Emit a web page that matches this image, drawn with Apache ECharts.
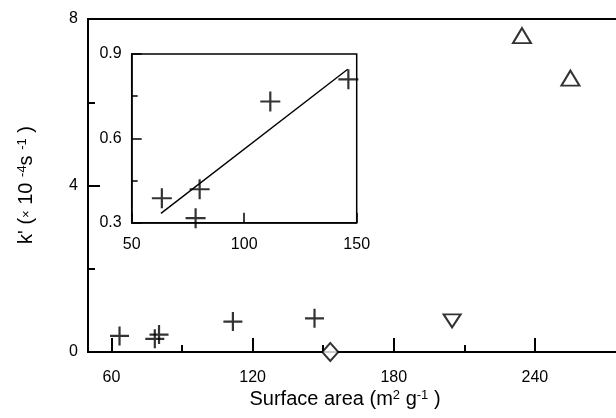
<!DOCTYPE html>
<html>
<head>
<meta charset="utf-8">
<script src="https://cdn.jsdelivr.net/npm/echarts@6/dist/echarts.min.js"></script>
<style>html,body{margin:0;padding:0;background:#fff}#c{width:616px;height:418px}</style>
</head>
<body>
<div id="c"></div>
<script>
// Data (surface area in m^2/g, k' in 1e-4 s^-1)
const plusX = [63.4, 78.4, 80.2, 111.6, 146.3];
const plusY = [0.387, 0.316, 0.419, 0.731, 0.810];
const diamondX = [153];
const diamondY = [0];
const downTriX = [204.8];
const downTriY = [0.75];
const upTriX = [234.5, 255.1];
const upTriY = [7.6, 6.58];
const fitX = [63, 146];
const fitY = [0.333, 0.846];
const mainXMajor = [60, 120, 180, 240];
const mainXMinor = [90, 150, 210];

const zip = (a, b) => a.map((v, i) => [v, b[i]]);
const FONT = 'Liberation Sans';
const plusPath = 'path://M0,10L20,10M10,0L10,20';
const black = '#000';

const chart = echarts.init(document.getElementById('c'), null, {renderer: 'canvas'});
chart.setOption({
  animation: false,
  backgroundColor: '#fff',
  textStyle: {fontFamily: FONT},
  grid: [
    {left: 88, top: 19, width: 541, height: 333, outerBoundsMode: 'none', containLabel: false,
     show: true, borderColor: black, borderWidth: 2, backgroundColor: 'transparent'},
    {left: 131.7, top: 54, width: 225, height: 168.7, outerBoundsMode: 'none', containLabel: false,
     show: true, borderColor: black, borderWidth: 1.5, backgroundColor: '#fff', z: 3}
  ],
  xAxis: [
    {gridIndex: 0, type: 'value', min: 50, max: 280, position: 'bottom',
     axisLine: {show: true, onZero: false, lineStyle: {color: black, width: 2}},
     axisTick: {show: true, inside: true, length: 14, customValues: mainXMajor, lineStyle: {color: black, width: 2}},
     axisLabel: {customValues: mainXMajor, margin: 18, fontSize: 16, color: black, fontFamily: FONT},
     splitLine: {show: false}},
    {gridIndex: 0, type: 'value', min: 50, max: 280, position: 'bottom',
     axisLine: {show: false},
     axisTick: {show: true, inside: true, length: 7, customValues: mainXMinor, lineStyle: {color: black, width: 2}},
     axisLabel: {show: false}, splitLine: {show: false}},
    {gridIndex: 1, type: 'value', min: 50, max: 150, interval: 50, position: 'bottom', z: 4,
     axisLine: {show: true, onZero: false, lineStyle: {color: black, width: 1.5}},
     axisTick: {show: true, inside: true, length: 10, lineStyle: {color: black, width: 1.5}},
     axisLabel: {margin: 14, fontSize: 16, color: black, fontFamily: FONT},
     splitLine: {show: false}}
  ],
  yAxis: [
    {gridIndex: 0, type: 'value', min: 0, max: 8, interval: 4,
     axisLine: {show: true, onZero: false, lineStyle: {color: black, width: 2}},
     axisTick: {show: true, inside: true, length: 12, lineStyle: {color: black, width: 2}},
     minorTick: {show: true, splitNumber: 2, length: 7, lineStyle: {color: black, width: 2}},
     axisLabel: {margin: 10, fontSize: 16, color: black, fontFamily: FONT},
     splitLine: {show: false}, minorSplitLine: {show: false}},
    {gridIndex: 1, type: 'value', min: 0.3, max: 0.9, interval: 0.3, z: 4,
     axisLine: {show: true, onZero: false, lineStyle: {color: black, width: 1.5}},
     axisTick: {show: true, inside: true, length: 10, lineStyle: {color: black, width: 1.5}},
     minorTick: {show: true, splitNumber: 2, length: 6, lineStyle: {color: black, width: 1.5}},
     axisLabel: {margin: 10, fontSize: 16, color: black, fontFamily: FONT, formatter: v => v.toFixed(1)},
     splitLine: {show: false}, minorSplitLine: {show: false}}
  ],
  series: [
    {type: 'scatter', xAxisIndex: 0, yAxisIndex: 0, data: zip(plusX, plusY), symbol: plusPath, symbolSize: 19,
     itemStyle: {color: 'none', borderColor: black, borderWidth: 2.2}, z: 5},
    {type: 'scatter', xAxisIndex: 0, yAxisIndex: 0, data: zip(diamondX, diamondY), symbol: 'diamond', symbolSize: [16, 18],
     itemStyle: {color: '#fff', borderColor: black, borderWidth: 2}, z: 5, clip: false},
    {type: 'scatter', xAxisIndex: 0, yAxisIndex: 0, data: zip(downTriX, downTriY), symbol: 'triangle', symbolRotate: 180, symbolSize: [17, 13],
     itemStyle: {color: '#fff', borderColor: black, borderWidth: 2}, z: 5},
    {type: 'scatter', xAxisIndex: 0, yAxisIndex: 0, data: zip(upTriX, upTriY), symbol: 'triangle', symbolSize: [18, 15],
     itemStyle: {color: '#fff', borderColor: black, borderWidth: 2}, z: 5},
    {type: 'line', xAxisIndex: 2, yAxisIndex: 1, data: zip(fitX, fitY), symbol: 'none',
     lineStyle: {color: black, width: 1.4}, z: 6},
    {type: 'scatter', xAxisIndex: 2, yAxisIndex: 1, data: zip(plusX, plusY), symbol: plusPath, symbolSize: 20,
     itemStyle: {color: 'none', borderColor: black, borderWidth: 2.2}, z: 6, clip: false}
  ],
  graphic: [
    {type: 'text', x: 345, y: 399, z: 10,
     style: {
       text: 'Surface area (m{sup|2} g{sup|-1} )',
       align: 'center', verticalAlign: 'middle', fill: black,
       font: '20px "' + FONT + '"',
       rich: {sup: {fontSize: 13, verticalAlign: 'top', fontFamily: FONT, fill: black, padding: [0, 0, 7, 0]}}
     }},
    {type: 'text', x: 26, y: 185, rotation: Math.PI / 2, z: 10,
     style: {
       text: "k' ({sm|×} 10 {sup|-4}s {sup|-1} )",
       align: 'center', verticalAlign: 'middle', fill: black,
       font: '20px "' + FONT + '"',
       rich: {
         sup: {fontSize: 13, verticalAlign: 'top', fontFamily: FONT, fill: black, padding: [0, 0, 7, 0]},
         sm: {fontSize: 13, fontFamily: FONT, fill: black}
       }
     }}
  ]
});
</script>
</body>
</html>
